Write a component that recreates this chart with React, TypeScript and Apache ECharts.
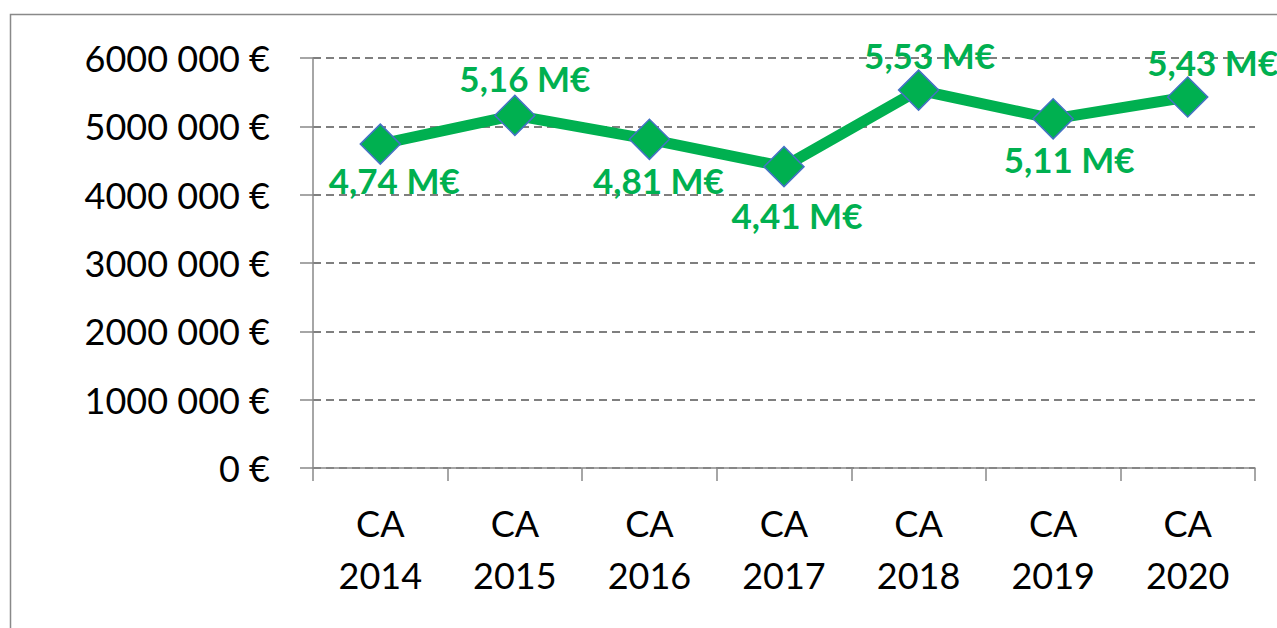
import React, { useEffect, useRef } from "react";
import * as echarts from "echarts";

const CATEGORIES = ["CA\n2014", "CA\n2015", "CA\n2016", "CA\n2017", "CA\n2018", "CA\n2019", "CA\n2020"];
const VALUES = [4740000, 5160000, 4810000, 4410000, 5530000, 5110000, 5430000];
const Y_TICKS = [0, 1000000, 2000000, 3000000, 4000000, 5000000, 6000000];
// label offsets (dx, dy) relative to the point
const LABEL_OFFSETS: [number, number][] = [
  [14, 36],
  [10, -37],
  [9, 41],
  [13, 48],
  [11, -35],
  [16, 40],
  [25, -35],
];

const GREEN = "#00B050";
const GRAY = "#898989";
const GRID_GRAY = "#7f7f7f";
const FONT = "Lato";

function fmtAxis(v: number): string {
  if (v === 0) return "0 €";
  return `${v / 1000} 000 €`;
}

function fmtLabel(v: number): string {
  return (v / 1e6).toFixed(2).replace(".", ",") + " M€";
}

export default function App() {
  const ref = useRef<HTMLDivElement>(null);
  useEffect(() => {
    document.body.style.margin = "0";
    if (!ref.current) return;
    const chart = echarts.init(ref.current, undefined, { renderer: "svg" });
    chart.setOption({
      animation: false,
      backgroundColor: "#ffffff",
      graphic: [
        {
          type: "rect",
          left: 8,
          top: 12,
          silent: true,
          shape: { width: 1400, height: 800 },
          style: { fill: "none", stroke: GRAY, lineWidth: 1.5 },
        },
      ],
      grid: { left: 313, right: 22, top: 58, bottom: 160 },
      xAxis: {
        type: "category",
        data: CATEGORIES,
        boundaryGap: true,
        axisLine: { show: true, lineStyle: { color: GRAY, width: 1.5 } },
        axisTick: { show: true, length: 13, lineStyle: { color: GRAY, width: 1.5 } },
        axisLabel: {
          color: "#000",
          fontFamily: FONT,
          fontSize: 36,
          lineHeight: 52,
          margin: 29,
        },
        splitLine: { show: false },
      },
      yAxis: {
        type: "value",
        min: Y_TICKS[0],
        max: Y_TICKS[Y_TICKS.length - 1],
        interval: Y_TICKS[1] - Y_TICKS[0],
        axisLine: { show: true, lineStyle: { color: GRAY, width: 1.5 } },
        axisTick: { show: true, length: 13, lineStyle: { color: GRAY, width: 1.5 } },
        axisLabel: {
          color: "#000",
          fontFamily: FONT,
          fontSize: 36,
          margin: 43,
          formatter: (v: number) => fmtAxis(v),
        },
        splitLine: {
          show: true,
          lineStyle: { color: GRID_GRAY, width: 1.8, type: [8, 5] },
        },
      },
      series: [
        {
          type: "line",
          data: VALUES.map((v, i) => ({
            value: v,
            label: { offset: LABEL_OFFSETS[i] },
          })),
          symbol: "diamond",
          symbolSize: 40,
          lineStyle: { color: GREEN, width: 11 },
          itemStyle: { color: GREEN, borderColor: "#4472C4", borderWidth: 1.5 },
          label: {
            show: true,
            position: "inside",
            color: GREEN,
            fontFamily: FONT,
            fontWeight: "bold",
            fontSize: 35,
            formatter: (p: any) => fmtLabel(p.value),
          },
          z: 3,
        },
      ],
    });
    return () => chart.dispose();
  }, []);
  return <div ref={ref} style={{ width: 1277, height: 628 }} />;
}
